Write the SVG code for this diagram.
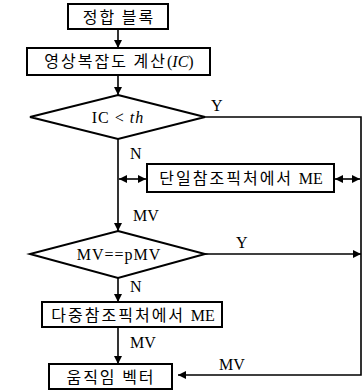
<svg xmlns="http://www.w3.org/2000/svg" width="363" height="391" viewBox="0 0 363 391">
<style>
.box{fill:#fff;stroke:#000;stroke-width:2}
.ln{fill:none;stroke:#000;stroke-width:1.6}
.ko{font-family:"Noto Sans CJK KR","Noto Sans",sans-serif;font-size:16px;letter-spacing:2px;fill:#000}
.la{font-family:"Liberation Serif",serif;font-size:16px;letter-spacing:0;fill:#000}
.dt{font-family:"Liberation Serif",serif;font-size:16px;letter-spacing:1px;fill:#000}
</style>
<defs>
<marker id="ah" viewBox="0 0 10 10" refX="10" refY="5" markerWidth="8" markerHeight="8" markerUnits="userSpaceOnUse" orient="auto-start-reverse">
<path d="M0,0L10,5L0,10z" fill="#000"/>
</marker>
</defs>
<g id="connectors">
<line class="ln" x1="118" y1="29" x2="118" y2="48" marker-end="url(#ah)"/>
<line class="ln" x1="118" y1="75" x2="118" y2="95" marker-end="url(#ah)"/>
<polyline class="ln" points="205,117 361,117 361,375 178,375" marker-end="url(#ah)"/>
<line class="ln" x1="118" y1="139" x2="118" y2="231" marker-end="url(#ah)"/>
<line class="ln" x1="119" y1="179" x2="146" y2="179" marker-start="url(#ah)" marker-end="url(#ah)"/>
<line class="ln" x1="335" y1="179" x2="360" y2="179" marker-start="url(#ah)" marker-end="url(#ah)"/>
<line class="ln" x1="205" y1="254" x2="361" y2="254" marker-end="url(#ah)"/>
<line class="ln" x1="118" y1="278" x2="118" y2="302" marker-end="url(#ah)"/>
<line class="ln" x1="118" y1="327" x2="118" y2="364" marker-end="url(#ah)"/>
<text class="la" x="211" y="111">Y</text>
<text class="la" x="130" y="159">N</text>
<text class="la" x="133" y="221">MV</text>
<text class="la" x="236" y="248">Y</text>
<text class="la" x="130" y="292">N</text>
<text class="la" x="130" y="348">MV</text>
<text class="la" x="219" y="370">MV</text>
</g>
<g id="n1"><rect class="box" x="68" y="4" width="100" height="25"/><text class="ko" x="119" y="23" text-anchor="middle">정합 블록</text></g>
<g id="n2"><rect class="box" x="27" y="48" width="183" height="27"/><text class="ko" x="119" y="67" text-anchor="middle">영상복잡도 계산<tspan class="la">(<tspan font-style="italic">IC</tspan>)</tspan></text></g>
<g id="n3"><polygon class="box" points="118,95 205,117 118,139 30,117"/><text class="dt" x="118" y="123" text-anchor="middle">IC &lt; <tspan font-style="italic">th</tspan></text></g>
<g id="n4"><rect class="box" x="147" y="164" width="187" height="28"/><text class="ko" x="241" y="184" text-anchor="middle">단일참조픽처에서 <tspan class="la">ME</tspan></text></g>
<g id="n5"><polygon class="box" points="118,231 205,254 118,278 30,254"/><text class="dt" x="119" y="260" text-anchor="middle">MV==pMV</text></g>
<g id="n6"><rect class="box" x="42" y="302" width="180" height="25"/><text class="ko" x="133" y="321" text-anchor="middle">다중참조픽처에서 <tspan class="la">ME</tspan></text></g>
<g id="n7"><rect class="box" x="49" y="364" width="123" height="25"/><text class="ko" x="111" y="383" text-anchor="middle">움직임 벡터</text></g>
</svg>
